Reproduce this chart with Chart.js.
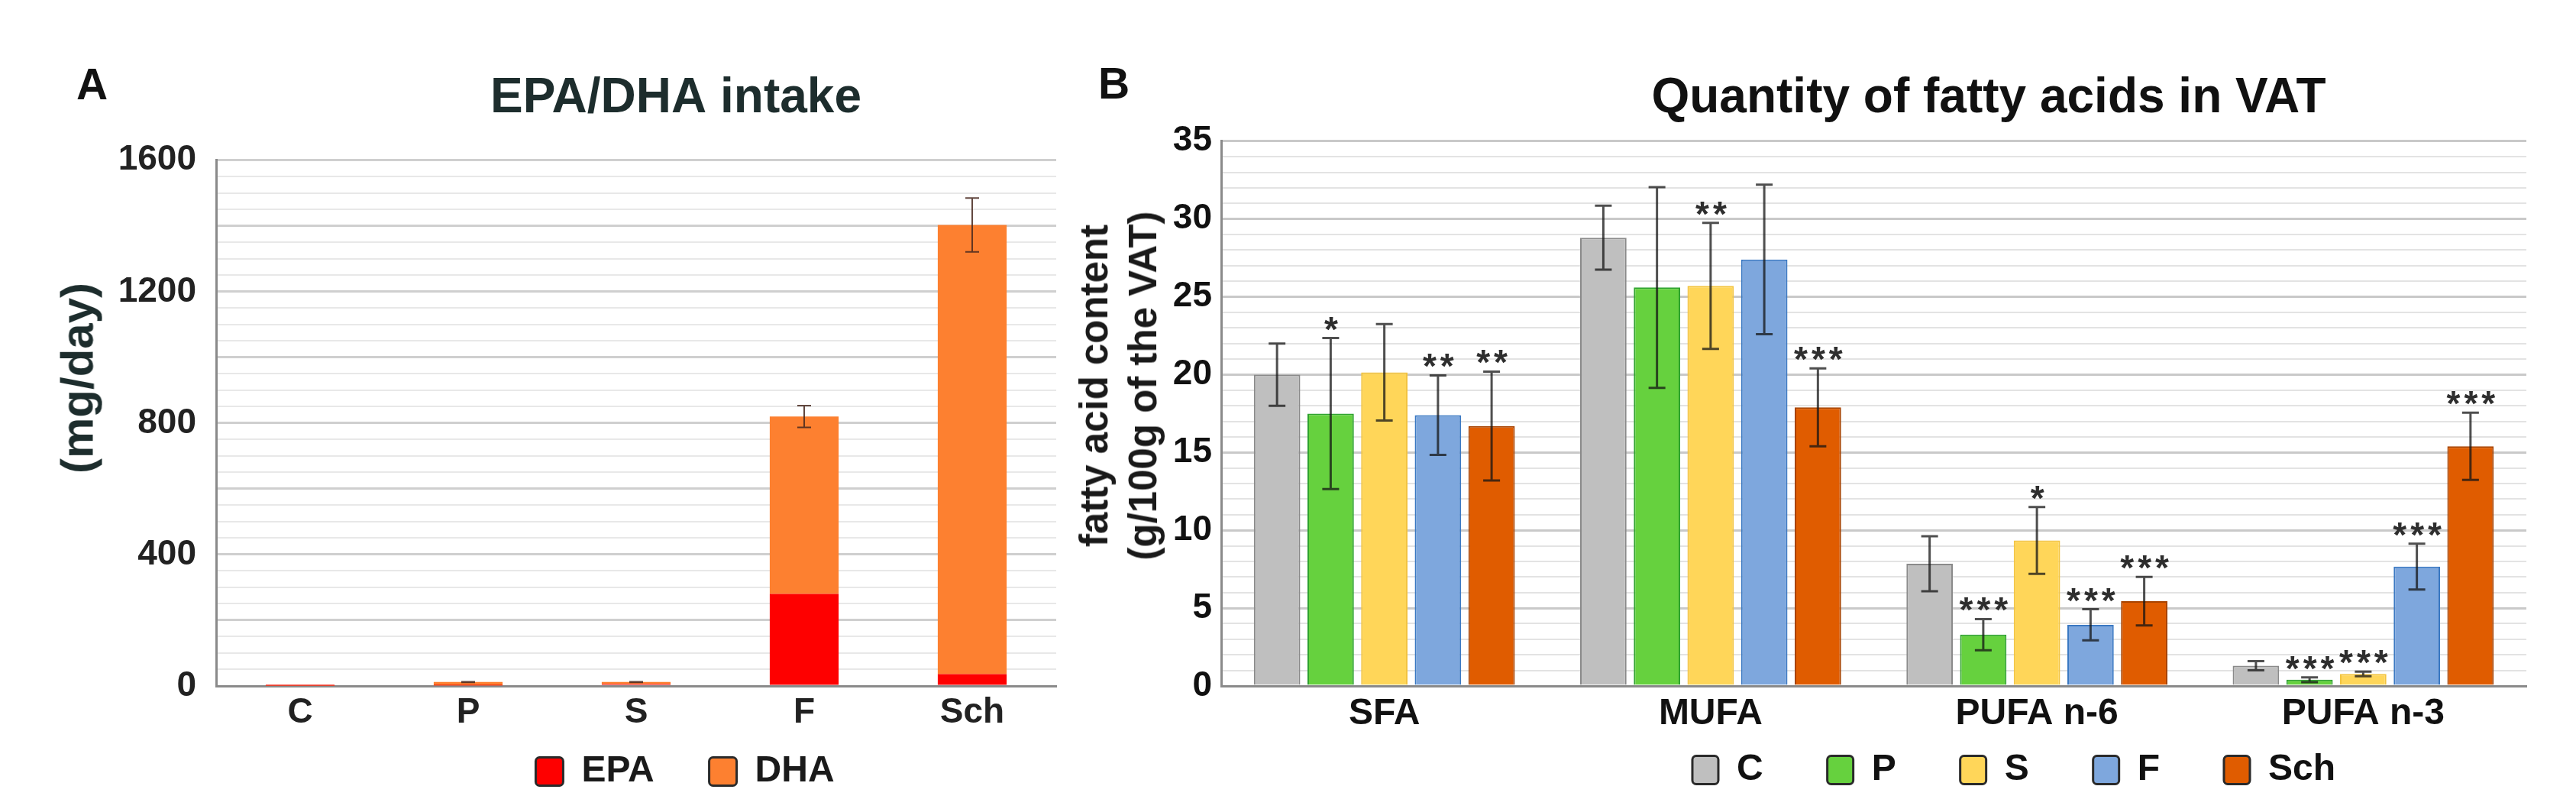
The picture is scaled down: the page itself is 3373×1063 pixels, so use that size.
<!DOCTYPE html>
<html>
<head>
<meta charset="utf-8">
<script src="https://cdn.jsdelivr.net/npm/chart.js@4.4.1/dist/chart.umd.min.js"></script>
<style>
  html, body { margin: 0; padding: 0; background: #fff; }
  body { width: 3373px; height: 1063px; position: relative; overflow: hidden; font-family: 'Liberation Sans', Arial, sans-serif; }
  .box { position: absolute; top: 0; height: 1063px; }
  #boxA { left: 0; width: 1400px; }
  #boxB { left: 1400px; width: 1973px; }
  .letter { position: absolute; font-weight: bold; font-size: 57px; line-height: 1; color: #111; }
  .ytitle { position: absolute; font-weight: bold; white-space: nowrap; text-align: center;
            transform: translate(-50%, -50%) rotate(-90deg); color: #1a1a1a; }
</style>
</head>
<body>
<div class="box" id="boxA"><canvas id="chartA"></canvas></div>
<div class="box" id="boxB"><canvas id="chartB"></canvas></div>
<div class="letter" style="left:100px;top:82px">A</div>
<div class="letter" style="left:1438px;top:81px">B</div>
<div class="ytitle" style="left:101px;top:495px;font-size:60px;color:#1d2d2d">(mg/day)</div>
<div class="ytitle" style="left:1465px;top:505px;font-size:51px;line-height:64px">fatty acid content<br>(g/100g of the VAT)</div>

<script>
// Panel A: EPA/DHA intake (mg/day), stacked
const intakeGroups = ['C', 'P', 'S', 'F', 'Sch'];
const epaIntake = [1, 2, 6, 280, 36];
const dhaIntake = [2, 10, 6, 540, 1367];
const intakeErr = [0, 1, 1, 33, 82];

// Panel B: fatty acids in VAT (g/100g)
const acidClasses = ['SFA', 'MUFA', 'PUFA n-6', 'PUFA n-3'];
const dietGroups = ['C', 'P', 'S', 'F', 'Sch'];
const acidC = [20.0, 28.8, 7.85, 1.3];
const acidP = [17.5, 25.6, 3.3, 0.4];
const acidS = [20.15, 25.7, 9.35, 0.77];
const acidF = [17.4, 27.4, 3.93, 7.67];
const acidSch = [16.7, 17.9, 5.45, 15.4];
const errC = [2.0, 2.05, 1.77, 0.3];
const errP = [4.85, 6.45, 1.0, 0.15];
const errS = [3.1, 4.05, 2.15, 0.15];
const errF = [2.55, 4.8, 1.0, 1.47];
const errSch = [3.5, 2.5, 1.56, 2.16];
const starsC = ['', '', '', ''];
const starsP = ['*', '', '***', '***'];
const starsS = ['', '**', '*', '***'];
const starsF = ['**', '', '***', '***'];
const starsSch = ['**', '***', '***', '***'];

Chart.defaults.font.family = "'Liberation Sans', Arial, sans-serif";
Chart.defaults.font.weight = 'bold';
Chart.defaults.color = '#1a1a1a';

// error bars + significance stars, drawn from each bar's own position
const errorBars = {
    id: 'errorBars',
    afterDatasetsDraw(chart, args, opts) {
        const ctx = chart.ctx;
        const y = chart.scales.y;
        chart.data.datasets.forEach((ds, i) => {
            if (!ds.errors) return;
            chart.getDatasetMeta(i).data.forEach((bar, j) => {
                const err = ds.errors[j];
                const top = y.getValueForPixel(bar.y);
                const hi = y.getPixelForValue(top + err);
                const lo = y.getPixelForValue(top - err);
                ctx.save();
                if (err > 0) {
                    ctx.strokeStyle = opts.color;
                    ctx.lineWidth = opts.width;
                    ctx.beginPath();
                    ctx.moveTo(bar.x, hi); ctx.lineTo(bar.x, lo);
                    ctx.moveTo(bar.x - opts.cap / 2, hi); ctx.lineTo(bar.x + opts.cap / 2, hi);
                    ctx.moveTo(bar.x - opts.cap / 2, lo); ctx.lineTo(bar.x + opts.cap / 2, lo);
                    ctx.stroke();
                }
                if (ds.stars && ds.stars[j]) {
                    ctx.fillStyle = '#2e2e2e';
                    ctx.font = opts.starFont;
                    ctx.letterSpacing = '5px';
                    ctx.textAlign = 'center';
                    ctx.textBaseline = 'alphabetic';
                    ctx.fillText(ds.stars[j], bar.x + 3, hi + 4);
                }
                ctx.restore();
            });
        });
    }
};

// move title / legend to where the figure has them
const placeBlocks = {
    id: 'placeBlocks',
    afterLayout(chart, args, opts) {
        const shift = (box, x, top) => {
            const dx = x - (box.left + box.right) / 2;
            const dy = top - box.top;
            box.left += dx; box.right += dx; box.top += dy; box.bottom += dy;
        };
        if (opts.title) shift(chart.titleBlock, opts.title.x, opts.title.y - chart.titleBlock.height / 2);
        if (opts.legend) shift(chart.legend, opts.legend.x, opts.legend.top);
    }
};

function framedLabels(chart) {
    return Chart.defaults.plugins.legend.labels.generateLabels(chart)
        .map(l => Object.assign(l, { strokeStyle: '#2a2a2a', lineWidth: 3 }));
}

new Chart(document.getElementById('chartA'), {
    type: 'bar',
    data: {
        labels: intakeGroups,
        datasets: [
            { label: 'EPA', data: epaIntake, backgroundColor: '#fe0000', borderWidth: 0 },
            { label: 'DHA', data: dhaIntake, errors: intakeErr, backgroundColor: '#fd8030', borderWidth: 0 }
        ]
    },
    options: {
        responsive: true,
        maintainAspectRatio: false,
        animation: false,
        barPercentage: 0.41,
        categoryPercentage: 1,
        // negative bottom padding: the legend keeps its large item spacing but is moved up afterwards
        layout: { padding: { top: 133, right: 17, bottom: -25, left: 0 } },
        scales: {
            x: {
                stacked: true,
                grid: { display: false },
                border: { color: '#8a8a8a', width: 3 },
                ticks: { padding: 0, font: { size: 46 }, color: '#222' },
                afterFit: s => { s.height = 60; }
            },
            y: {
                stacked: true,
                min: 0, max: 1600,
                border: { color: '#8a8a8a', width: 3 },
                grid: {
                    drawTicks: false,
                    color: c => c.tick.value % 200 === 0 ? '#cfcfcf' : '#e8e8e8',
                    lineWidth: c => c.tick.value % 200 === 0 ? 3 : 2
                },
                ticks: {
                    stepSize: 50, autoSkip: false, padding: 26,
                    font: { size: 46 }, color: '#222',
                    callback: v => v % 400 === 0 ? v : ''
                },
                afterFit: s => { s.width = 283; }
            }
        },
        plugins: {
            title: { display: true, text: 'EPA/DHA intake', color: '#1d2d2d', font: { size: 64 }, padding: 0 },
            legend: {
                position: 'bottom',
                labels: {
                    font: { size: 48 }, color: '#1a1a1a',
                    boxWidth: 36, boxHeight: 37, padding: 72,
                    useBorderRadius: true, borderRadius: 5,
                    generateLabels: framedLabels
                }
            },
            tooltip: { enabled: false },
            placeBlocks: { title: { x: 885, y: 129 }, legend: { x: 897, top: 914 } },
            errorBars: { color: 'rgba(70,40,30,0.85)', width: 2, cap: 18, starFont: 'bold 46px Liberation Sans' }
        }
    },
    plugins: [placeBlocks, errorBars]
});

new Chart(document.getElementById('chartB'), {
    type: 'bar',
    data: {
        labels: acidClasses,
        datasets: [
            { label: dietGroups[0], data: acidC, errors: errC, stars: starsC, backgroundColor: '#bfbfbf', borderColor: '#8a8a8a', borderWidth: 2 },
            { label: dietGroups[1], data: acidP, errors: errP, stars: starsP, backgroundColor: '#66d13e', borderColor: '#2fa32f', borderWidth: 2 },
            { label: dietGroups[2], data: acidS, errors: errS, stars: starsS, backgroundColor: '#ffd659', borderColor: '#f3c440', borderWidth: 2 },
            { label: dietGroups[3], data: acidF, errors: errF, stars: starsF, backgroundColor: '#7ea7dd', borderColor: '#3a78c2', borderWidth: 2 },
            { label: dietGroups[4], data: acidSch, errors: errSch, stars: starsSch, backgroundColor: '#e05c00', borderColor: '#a84300', borderWidth: 2 }
        ]
    },
    options: {
        responsive: true,
        maintainAspectRatio: false,
        animation: false,
        barPercentage: 0.865,
        categoryPercentage: 0.822,
        layout: { padding: { top: 108, right: 65, bottom: -37, left: 0 } },
        scales: {
            x: {
                grid: { display: false },
                border: { color: '#8a8a8a', width: 3 },
                ticks: { padding: 0, font: { size: 48 }, color: '#111' },
                afterFit: s => { s.height = 60; }
            },
            y: {
                min: 0, max: 35,
                border: { color: '#8a8a8a', width: 3 },
                grid: {
                    drawTicks: false,
                    color: c => c.tick.value % 5 === 0 ? '#c9c9c9' : '#e3e3e3',
                    lineWidth: c => c.tick.value % 5 === 0 ? 3 : 2
                },
                ticks: {
                    stepSize: 1, autoSkip: false, padding: 12,
                    font: { size: 46 }, color: '#111',
                    callback: v => v % 5 === 0 ? v : ''
                },
                afterFit: s => { s.width = 199; }
            }
        },
        plugins: {
            title: { display: true, text: 'Quantity of fatty acids in VAT', color: '#111', font: { size: 64 }, padding: 0 },
            legend: {
                position: 'bottom',
                labels: {
                    font: { size: 48 }, color: '#111',
                    boxWidth: 34, boxHeight: 37, padding: 84,
                    useBorderRadius: true, borderRadius: 5,
                    generateLabels: framedLabels
                }
            },
            tooltip: { enabled: false },
            placeBlocks: { title: { x: 1204, y: 129 }, legend: { x: 1237, top: 900 } },
            errorBars: { color: 'rgba(20,20,20,0.75)', width: 3, cap: 22, starFont: 'bold 46px Liberation Sans' }
        }
    },
    plugins: [placeBlocks, errorBars]
});
</script>
</body>
</html>
